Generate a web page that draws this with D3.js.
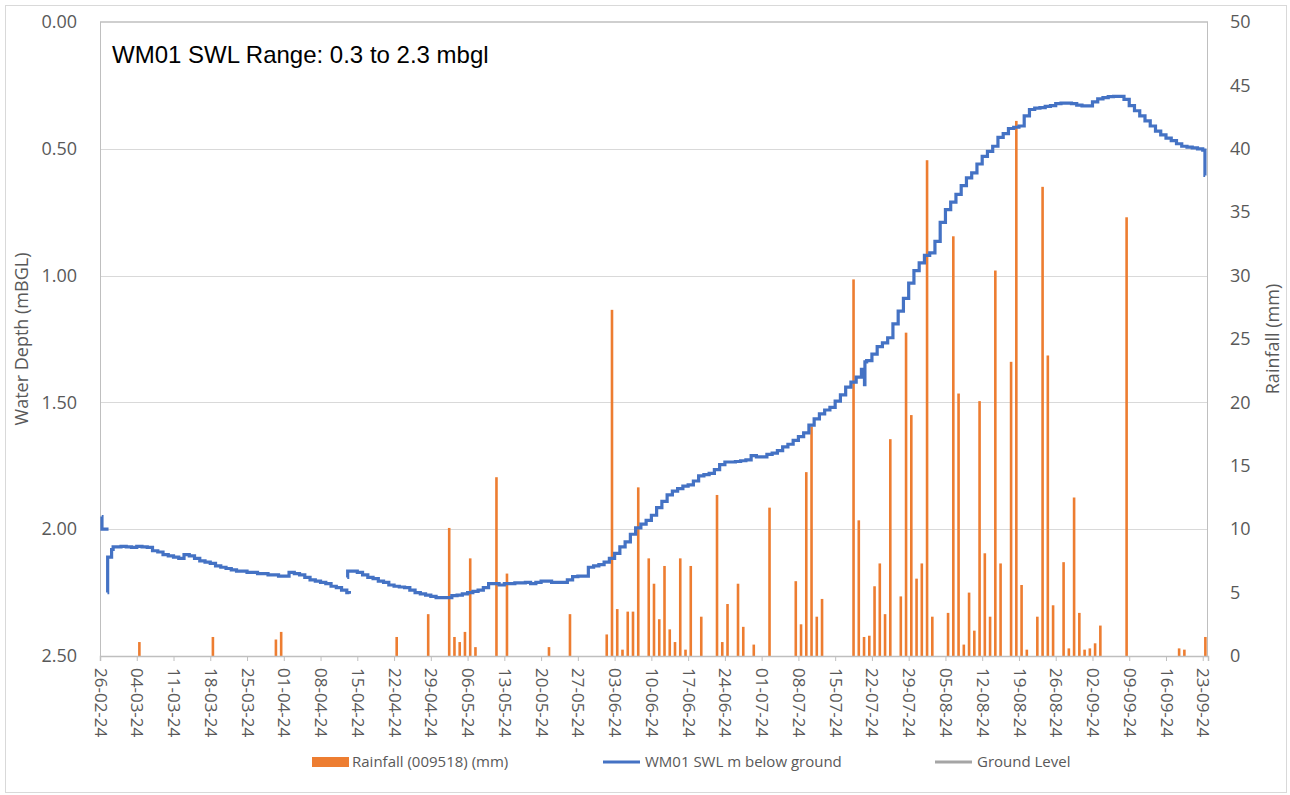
<!DOCTYPE html>
<html>
<head>
<meta charset="utf-8">
<script src="https://cdn.jsdelivr.net/npm/d3@7"></script>
<style>
  body { margin: 0; background: #fff; }
  text { font-family: "Open Sans", sans-serif; fill: #595959; }
</style>
</head>
<body>
<div id="chart"></div>
<script>
// water level readings (m below ground), step logger data; null = break in record
const swlReadings = [
  ['2024-02-26 08:00', 1.95], ['2024-02-26 09:00', 2.00], ['2024-02-27 15:00', 2.00], null,
  ['2024-02-27 10:00', 2.25], ['2024-02-27 11:00', 2.11], ['2024-02-28 05:00', 2.08], ['2024-02-28 12:00', 2.07],
  ['2024-02-29', 2.07], ['2024-03-01', 2.068], ['2024-03-02', 2.07], ['2024-03-03', 2.072], ['2024-03-04', 2.068],
  ['2024-03-05', 2.07], ['2024-03-06', 2.072], ['2024-03-07', 2.085], ['2024-03-08', 2.09], ['2024-03-09', 2.10],
  ['2024-03-10', 2.105], ['2024-03-11', 2.11], ['2024-03-12', 2.115], ['2024-03-13', 2.10], ['2024-03-14', 2.105],
  ['2024-03-15', 2.115], ['2024-03-16', 2.125], ['2024-03-17', 2.13], ['2024-03-18', 2.135], ['2024-03-19', 2.145],
  ['2024-03-20', 2.15], ['2024-03-21', 2.155], ['2024-03-22', 2.16], ['2024-03-23', 2.165], ['2024-03-24', 2.165],
  ['2024-03-25', 2.17], ['2024-03-26', 2.17], ['2024-03-27', 2.175], ['2024-03-28', 2.175], ['2024-03-29', 2.18],
  ['2024-03-30', 2.18], ['2024-03-31', 2.185], ['2024-04-01', 2.185], ['2024-04-02', 2.17], ['2024-04-03', 2.175],
  ['2024-04-04', 2.18], ['2024-04-05', 2.19], ['2024-04-06', 2.20], ['2024-04-07', 2.205], ['2024-04-08', 2.21],
  ['2024-04-09', 2.215], ['2024-04-10', 2.225], ['2024-04-11', 2.23], ['2024-04-12', 2.24], ['2024-04-13', 2.25],
  ['2024-04-13 12:00', 2.255], null,
  ['2024-04-13 02:00', 2.19], ['2024-04-13 04:00', 2.165], ['2024-04-14', 2.165], ['2024-04-15', 2.17],
  ['2024-04-16', 2.18], ['2024-04-17', 2.19], ['2024-04-18', 2.195], ['2024-04-19', 2.205], ['2024-04-20', 2.21],
  ['2024-04-21', 2.22], ['2024-04-22', 2.225], ['2024-04-23', 2.228], ['2024-04-24', 2.23], ['2024-04-25', 2.24],
  ['2024-04-26', 2.25], ['2024-04-27', 2.255], ['2024-04-28', 2.26], ['2024-04-29', 2.265], ['2024-04-30', 2.27],
  ['2024-05-01', 2.27], ['2024-05-02', 2.27], ['2024-05-03', 2.262], ['2024-05-04', 2.26], ['2024-05-05', 2.255],
  ['2024-05-06', 2.25], ['2024-05-07', 2.245], ['2024-05-08', 2.24], ['2024-05-09', 2.23], ['2024-05-10', 2.215],
  ['2024-05-11', 2.215], ['2024-05-12', 2.22], ['2024-05-13', 2.215], ['2024-05-14', 2.215], ['2024-05-15', 2.212],
  ['2024-05-16', 2.212], ['2024-05-17', 2.21], ['2024-05-18', 2.215], ['2024-05-19', 2.21], ['2024-05-20', 2.205],
  ['2024-05-21', 2.205], ['2024-05-22', 2.21], ['2024-05-23', 2.21], ['2024-05-24', 2.21], ['2024-05-25', 2.20],
  ['2024-05-26', 2.187], ['2024-05-27', 2.185], ['2024-05-28', 2.185], ['2024-05-29', 2.15], ['2024-05-30', 2.145],
  ['2024-05-31', 2.14], ['2024-06-01', 2.13], ['2024-06-02', 2.115], ['2024-06-03', 2.095], ['2024-06-04', 2.07],
  ['2024-06-05', 2.05], ['2024-06-06', 2.02], ['2024-06-07', 1.995], ['2024-06-08', 1.98], ['2024-06-09', 1.965],
  ['2024-06-10', 1.945], ['2024-06-11', 1.915], ['2024-06-12', 1.89], ['2024-06-13', 1.865], ['2024-06-14', 1.85],
  ['2024-06-15', 1.84], ['2024-06-16', 1.83], ['2024-06-17', 1.825], ['2024-06-18', 1.81], ['2024-06-19', 1.79],
  ['2024-06-20', 1.785], ['2024-06-21', 1.78], ['2024-06-22', 1.765], ['2024-06-23', 1.745], ['2024-06-24', 1.735],
  ['2024-06-25', 1.735], ['2024-06-26', 1.733], ['2024-06-27', 1.73], ['2024-06-28', 1.727], ['2024-06-29', 1.71],
  ['2024-06-30', 1.715], ['2024-07-01', 1.715], ['2024-07-02', 1.705], ['2024-07-03', 1.70], ['2024-07-04', 1.69],
  ['2024-07-05', 1.675], ['2024-07-06', 1.665], ['2024-07-07', 1.65], ['2024-07-08', 1.635], ['2024-07-09', 1.62],
  ['2024-07-10', 1.59], ['2024-07-11', 1.565], ['2024-07-12', 1.545], ['2024-07-13', 1.53], ['2024-07-14', 1.52],
  ['2024-07-15', 1.495], ['2024-07-16', 1.47], ['2024-07-17', 1.44], ['2024-07-18', 1.42], ['2024-07-19', 1.40],
  ['2024-07-20', 1.37], ['2024-07-20 14:00', 1.43], ['2024-07-20 16:00', 1.34], ['2024-07-21', 1.335],
  ['2024-07-22', 1.31], ['2024-07-23', 1.28], ['2024-07-24', 1.265], ['2024-07-25', 1.245], ['2024-07-26', 1.19],
  ['2024-07-27', 1.14], ['2024-07-28', 1.09], ['2024-07-29', 1.03], ['2024-07-30', 0.98], ['2024-07-31', 0.95],
  ['2024-08-01', 0.92], ['2024-08-02', 0.91], ['2024-08-03', 0.865], ['2024-08-04', 0.79], ['2024-08-05', 0.74],
  ['2024-08-06', 0.71], ['2024-08-07', 0.68], ['2024-08-08', 0.645], ['2024-08-09', 0.615], ['2024-08-10', 0.595],
  ['2024-08-11', 0.56], ['2024-08-12', 0.53], ['2024-08-13', 0.51], ['2024-08-14', 0.49], ['2024-08-15', 0.455],
  ['2024-08-16', 0.44], ['2024-08-17', 0.42], ['2024-08-18', 0.415], ['2024-08-19', 0.41], ['2024-08-20', 0.37],
  ['2024-08-21', 0.345], ['2024-08-22', 0.34], ['2024-08-23', 0.338], ['2024-08-24', 0.333], ['2024-08-25', 0.33],
  ['2024-08-26', 0.322], ['2024-08-27', 0.32], ['2024-08-28', 0.32], ['2024-08-29', 0.322], ['2024-08-30', 0.328],
  ['2024-08-31', 0.331], ['2024-09-01', 0.331], ['2024-09-02', 0.315], ['2024-09-03', 0.303], ['2024-09-04', 0.298],
  ['2024-09-05', 0.294], ['2024-09-06', 0.293], ['2024-09-07', 0.293], ['2024-09-08', 0.305], ['2024-09-09', 0.33],
  ['2024-09-10', 0.35], ['2024-09-11', 0.37], ['2024-09-12', 0.39], ['2024-09-13', 0.41], ['2024-09-14', 0.43],
  ['2024-09-15', 0.445], ['2024-09-16', 0.458], ['2024-09-17', 0.468], ['2024-09-18', 0.48], ['2024-09-19', 0.49],
  ['2024-09-20', 0.493], ['2024-09-21', 0.496], ['2024-09-22', 0.50], ['2024-09-23', 0.505],
  ['2024-09-23 10:00', 0.605], ['2024-09-23 11:00', 0.605]
];

// daily rainfall, station 009518 (mm)
const rainfall = [
  ['2024-03-04', 1.1], ['2024-03-18', 1.5], ['2024-03-30', 1.3], ['2024-03-31', 1.9], ['2024-04-22', 1.5],
  ['2024-04-28', 3.3], ['2024-05-02', 10.1], ['2024-05-03', 1.5], ['2024-05-04', 1.1], ['2024-05-05', 1.9],
  ['2024-05-06', 7.7], ['2024-05-07', 0.7], ['2024-05-11', 14.1], ['2024-05-13', 6.5], ['2024-05-21', 0.7],
  ['2024-05-25', 3.3], ['2024-06-01', 1.7], ['2024-06-02', 27.3], ['2024-06-03', 3.7], ['2024-06-04', 0.5],
  ['2024-06-05', 3.5], ['2024-06-06', 3.5], ['2024-06-07', 13.3], ['2024-06-09', 7.7], ['2024-06-10', 5.7],
  ['2024-06-11', 2.9], ['2024-06-12', 7.1], ['2024-06-13', 2.1], ['2024-06-14', 1.1], ['2024-06-15', 7.7],
  ['2024-06-16', 0.5], ['2024-06-17', 7.1], ['2024-06-19', 3.1], ['2024-06-22', 12.7], ['2024-06-23', 1.1],
  ['2024-06-24', 4.1], ['2024-06-26', 5.7], ['2024-06-27', 2.3], ['2024-06-29', 0.9], ['2024-07-02', 11.7],
  ['2024-07-07', 5.9], ['2024-07-08', 2.5], ['2024-07-09', 14.5], ['2024-07-10', 18.1], ['2024-07-11', 3.1],
  ['2024-07-12', 4.5], ['2024-07-18', 29.7], ['2024-07-19', 10.7], ['2024-07-20', 1.5], ['2024-07-21', 1.6],
  ['2024-07-22', 5.5], ['2024-07-23', 7.3], ['2024-07-24', 3.3], ['2024-07-25', 17.1], ['2024-07-27', 4.7],
  ['2024-07-28', 25.5], ['2024-07-29', 19.0], ['2024-07-30', 6.1], ['2024-07-31', 7.3], ['2024-08-01', 39.1],
  ['2024-08-02', 3.1], ['2024-08-05', 3.4], ['2024-08-06', 33.1], ['2024-08-07', 20.7], ['2024-08-08', 0.9],
  ['2024-08-09', 5.0], ['2024-08-10', 2.0], ['2024-08-11', 20.1], ['2024-08-12', 8.1], ['2024-08-13', 3.1],
  ['2024-08-14', 30.4], ['2024-08-15', 7.3], ['2024-08-17', 23.2], ['2024-08-18', 42.2], ['2024-08-19', 5.6],
  ['2024-08-20', 0.5], ['2024-08-22', 3.1], ['2024-08-23', 37.0], ['2024-08-24', 23.7], ['2024-08-25', 4.0],
  ['2024-08-27', 7.4], ['2024-08-28', 0.6], ['2024-08-29', 12.5], ['2024-08-30', 3.4], ['2024-08-31', 0.5],
  ['2024-09-01', 0.6], ['2024-09-02', 1.0], ['2024-09-03', 2.4], ['2024-09-08', 34.6], ['2024-09-18', 0.6],
  ['2024-09-19', 0.5], ['2024-09-23', 1.5]
];

const groundLevel = 0;
const dateRange = ['2024-02-26', '2024-09-24'];
const depthTicks = [0, 0.5, 1.0, 1.5, 2.0, 2.5];
const rainTicks = [0, 5, 10, 15, 20, 25, 30, 35, 40, 45, 50];
const titleText = 'WM01 SWL Range: 0.3 to 2.3 mbgl';
const legendItems = [
  { name: 'Rainfall (009518) (mm)', type: 'bar', color: '#ED7D31' },
  { name: 'WM01 SWL m below ground', type: 'line', color: '#4472C4' },
  { name: 'Ground Level', type: 'line', color: '#A5A5A5' }
];

const width = 1290;
const height = 795;
const plot = { left: 100, right: 1208, top: 22, bottom: 656 };

const parseDay = d3.utcParse('%Y-%m-%d');
const parseHour = d3.utcParse('%Y-%m-%d %H:%M');
const parseT = s => (s.length > 10 ? parseHour(s) : parseDay(s));

const swl = swlReadings.map(r => (r ? { date: parseT(r[0]), v: r[1] } : null));
const rain = rainfall.map(r => ({ date: parseT(r[0]), mm: r[1] }));

const svg = d3.select('#chart').append('svg')
  .attr('width', width)
  .attr('height', height);

// chart area border
svg.append('rect')
  .attr('x', 5.5).attr('y', 5.5)
  .attr('width', 1281).attr('height', 787)
  .attr('fill', '#fff')
  .attr('stroke', '#d9d9d9');

const x = d3.scaleUtc()
  .domain(dateRange.map(parseDay))
  .range([plot.left, plot.right]);

const yDepth = d3.scaleLinear()
  .domain([0, 2.5])
  .range([plot.top, plot.bottom]);

const yRain = d3.scaleLinear()
  .domain([0, 50])
  .range([plot.bottom, plot.top]);

// gridlines
svg.append('g')
  .selectAll('line')
  .data(depthTicks.filter(d => d > 0 && d < 2.5))
  .enter().append('line')
  .attr('x1', plot.left).attr('x2', plot.right)
  .attr('y1', d => Math.round(yDepth(d)) + 0.5)
  .attr('y2', d => Math.round(yDepth(d)) + 0.5)
  .style('stroke', '#d9d9d9')
  .style('stroke-width', 1.2);

// rainfall bars
svg.append('g')
  .selectAll('rect')
  .data(rain)
  .enter().append('rect')
  .attr('x', d => x(d3.utcHour.offset(d.date, 12)) - 1.3)
  .attr('width', 2.6)
  .attr('y', d => yRain(d.mm))
  .attr('height', d => yRain(0) - yRain(d.mm))
  .style('fill', '#ED7D31');

// axis lines
svg.append('line')
  .attr('x1', plot.left + 0.5).attr('x2', plot.left + 0.5)
  .attr('y1', plot.top).attr('y2', plot.bottom)
  .style('stroke', '#bfbfbf');
svg.append('line')
  .attr('x1', plot.right - 0.5).attr('x2', plot.right - 0.5)
  .attr('y1', plot.top).attr('y2', plot.bottom)
  .style('stroke', '#bfbfbf');

// ground level
svg.append('line')
  .attr('x1', plot.left).attr('x2', plot.right)
  .attr('y1', yDepth(groundLevel)).attr('y2', yDepth(groundLevel))
  .style('stroke', '#bfbfbf')
  .style('stroke-width', 1.6);

// SWL step line
const swlLine = d3.line()
  .defined(d => d !== null)
  .x(d => x(d.date))
  .y(d => yDepth(d.v))
  .curve(d3.curveStepAfter);

svg.append('path')
  .datum(swl)
  .attr('d', swlLine)
  .style('fill', 'none')
  .style('stroke', '#4472C4')
  .style('stroke-width', 3.2);

// bottom axis
const xAxis = svg.append('g')
  .attr('transform', `translate(0,${plot.bottom})`)
  .call(d3.axisBottom(x)
    .ticks(d3.utcMonday.every(1))
    .tickFormat(d3.utcFormat('%d-%m-%y'))
    .tickSizeOuter(0)
    .tickSize(5));
xAxis.select('.domain').style('stroke', '#bfbfbf').style('stroke-width', 1.5);
xAxis.selectAll('.tick line').style('stroke', '#bfbfbf');
xAxis.selectAll('.tick text')
  .attr('transform', 'rotate(90)')
  .attr('x', 12)
  .attr('y', 0)
  .attr('dy', '0.35em')
  .style('text-anchor', 'start')
  .style('font-size', '17px')
  .style('fill', '#595959');

// left axis
const yAxisL = svg.append('g')
  .attr('transform', `translate(${plot.left},0)`)
  .call(d3.axisLeft(yDepth)
    .tickValues(depthTicks)
    .tickFormat(d3.format('.2f'))
    .tickSize(0)
    .tickPadding(23));
yAxisL.select('.domain').remove();
yAxisL.selectAll('text')
  .style('font-size', '18px')
  .style('fill', '#595959');

// right axis
const yAxisR = svg.append('g')
  .attr('transform', `translate(${plot.right},0)`)
  .call(d3.axisRight(yRain)
    .tickValues(rainTicks)
    .tickSize(0)
    .tickPadding(22));
yAxisR.select('.domain').remove();
yAxisR.selectAll('text')
  .style('font-size', '18px')
  .style('fill', '#595959');

// axis titles
svg.append('text')
  .attr('transform', `translate(28,${(plot.top + plot.bottom) / 2}) rotate(-90)`)
  .style('text-anchor', 'middle')
  .style('font-size', '18px')
  .text('Water Depth (mBGL)');

svg.append('text')
  .attr('transform', `translate(1279,${(plot.top + plot.bottom) / 2}) rotate(-90)`)
  .style('text-anchor', 'middle')
  .style('font-size', '18px')
  .text('Rainfall (mm)');

// range label
svg.append('text')
  .attr('x', 112)
  .attr('y', 63)
  .style('font-family', '"Liberation Sans", Arial, sans-serif')
  .style('font-size', '24px')
  .style('fill', '#000')
  .text(titleText);

// legend
const legendX = [312, 603, 935];
const legend = svg.append('g')
  .selectAll('g')
  .data(legendItems)
  .enter().append('g')
  .attr('transform', (d, i) => `translate(${legendX[i]},762)`);

legend.filter(d => d.type === 'bar').append('rect')
  .attr('x', 0).attr('y', -5)
  .attr('width', 37).attr('height', 10)
  .style('fill', d => d.color);

legend.filter(d => d.type === 'line').append('line')
  .attr('x1', 0).attr('x2', 37)
  .attr('y1', 0).attr('y2', 0)
  .style('stroke', d => d.color)
  .style('stroke-width', 3);

legend.append('text')
  .attr('x', (d, i) => (i === 0 ? 40 : 42))
  .attr('y', 0)
  .attr('dy', '0.35em')
  .style('font-size', '15px')
  .style('fill', '#595959')
  .text(d => d.name);
</script>
</body>
</html>
